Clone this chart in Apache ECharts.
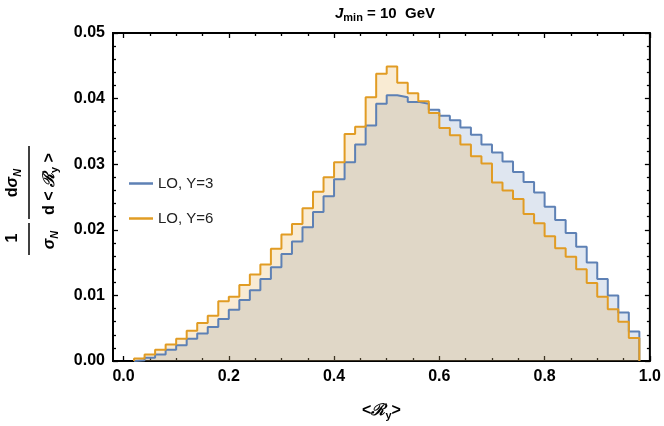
<!DOCTYPE html>
<html>
<head>
<meta charset="utf-8">
<script src="https://cdn.jsdelivr.net/npm/echarts@6/dist/echarts.min.js"></script>
<style>
  html, body { margin: 0; padding: 0; background: #fff; }
  #chart { width: 664px; height: 426px; }
</style>
</head>
<body>
<div id="chart"></div>
<script>
// bin edges of the histogram (width 0.02)
const binEdges = [0.02, 0.04, 0.06, 0.08, 0.10, 0.12, 0.14, 0.16, 0.18, 0.20,
  0.22, 0.24, 0.26, 0.28, 0.30, 0.32, 0.34, 0.36, 0.38, 0.40,
  0.42, 0.44, 0.46, 0.48, 0.50, 0.52, 0.54, 0.56, 0.58, 0.60,
  0.62, 0.64, 0.66, 0.68, 0.70, 0.72, 0.74, 0.76, 0.78, 0.80,
  0.82, 0.84, 0.86, 0.88, 0.90, 0.92, 0.94, 0.96, 0.98];

// LO, Y=3
const loY3 = [0.0001, 0.0005, 0.0010, 0.0017, 0.0024, 0.0034, 0.0042, 0.0052, 0.0064, 0.0078,
  0.0093, 0.0108, 0.0125, 0.0143, 0.0163, 0.0182, 0.0204, 0.0227, 0.0251, 0.0277,
  0.0303, 0.0330, 0.0359, 0.0392, 0.0405, 0.0402, 0.0395, 0.0392, 0.0383, 0.0374,
  0.0367, 0.0356, 0.0345, 0.0330, 0.0318, 0.0304, 0.0288, 0.0273, 0.0257, 0.0235,
  0.0215, 0.0195, 0.0174, 0.0150, 0.0125, 0.0100, 0.0074, 0.0045];

// LO, Y=6
const loY6 = [0.0004, 0.0010, 0.0017, 0.0025, 0.0034, 0.0046, 0.0058, 0.0069, 0.0091, 0.0098,
  0.0116, 0.0132, 0.0147, 0.0171, 0.0193, 0.0209, 0.0233, 0.0258, 0.0280, 0.0303,
  0.0346, 0.0357, 0.0402, 0.0438, 0.0449, 0.0424, 0.0408, 0.0396, 0.0378, 0.0355,
  0.0344, 0.0330, 0.0312, 0.0301, 0.0272, 0.0260, 0.0247, 0.0224, 0.0210, 0.0190,
  0.0172, 0.0159, 0.0140, 0.0119, 0.0098, 0.0079, 0.0060, 0.0035];

const xMajorTicks = [0, 0.2, 0.4, 0.6, 0.8, 1.0];
const xMinorTicks = [0.05, 0.1, 0.15, 0.25, 0.3, 0.35, 0.45, 0.5, 0.55,
  0.65, 0.7, 0.75, 0.85, 0.9, 0.95];

const BLUE = '#5E81B5';
const ORANGE = '#E19C24';
const FONT = 'Liberation Sans';

function stepPoints(vals) {
  const pts = [[binEdges[0], 0]];
  vals.forEach((v, i) => pts.push([binEdges[i], v]));
  const last = binEdges[vals.length];
  pts.push([last, vals[vals.length - 1]]);
  pts.push([last, 0]);
  return pts;
}

const myChart = echarts.init(document.getElementById('chart'));

const sub = { fontSize: 11, fontWeight: 'bold', fontFamily: FONT, padding: [9, 0, 0, 0] };
const big = { fontSize: 16, fontWeight: 'bold', fontFamily: FONT };
const ital = { fontSize: 16, fontWeight: 'bold', fontStyle: 'italic', fontFamily: FONT };

function xAxisBase(position, ticks, len) {
  return {
    type: 'value',
    position: position,
    min: -0.02,
    max: 1.0,
    axisLine: { show: false, onZero: false },
    splitLine: { show: false },
    axisTick: {
      show: true, inside: true, length: len, customValues: ticks,
      lineStyle: { color: '#000', width: 1.3 },
    },
    axisLabel: { show: false },
  };
}

function yAxisBase(position) {
  return {
    type: 'value', position: position, min: 0, max: 0.05, interval: 0.01,
    axisLine: { show: false, onZero: false },
    splitLine: { show: false },
    axisTick: { show: true, inside: true, length: 5, lineStyle: { color: '#000', width: 1.3 } },
    minorTick: { show: true, splitNumber: 5, length: 3, lineStyle: { color: '#000', width: 1.3 } },
    axisLabel: { show: false },
  };
}

const option = {
  animation: false,
  title: {
    text: '{i|J}{s|min}{b| = 10  GeV}',
    left: 380,
    top: -1,
    textAlign: 'center',
    textStyle: {
      rich: {
        i: { fontSize: 15, fontWeight: 'bold', fontStyle: 'italic', fontFamily: FONT, color: '#000' },
        s: { fontSize: 11, fontWeight: 'bold', fontFamily: FONT, color: '#000', padding: [8, 0, 0, 0] },
        b: { fontSize: 15, fontWeight: 'bold', fontFamily: FONT, color: '#000' },
      },
    },
  },
  legend: {
    orient: 'vertical',
    left: 124,
    top: 171,
    icon: 'rect',
    itemWidth: 24,
    itemHeight: 2.5,
    itemGap: 20,
    textStyle: { fontSize: 15, fontFamily: FONT, color: '#222', padding: [0, 0, 0, 0] },
    data: ['LO, Y=3', 'LO, Y=6'],
  },
  grid: {
    left: 113, right: 14, top: 33, bottom: 60,
    show: true, borderColor: '#000', borderWidth: 2, backgroundColor: 'transparent',
  },
  xAxis: [
    Object.assign(xAxisBase('bottom', xMajorTicks, 5), {
      axisLabel: {
        show: true, customValues: xMajorTicks, margin: 8,
        fontSize: 16, fontWeight: 'bold', fontFamily: FONT, color: '#000',
        formatter: (v) => v.toFixed(1),
      },
      name: '<{i|ℛ}{s|y}>',
      nameLocation: 'middle',
      nameGap: 40,
      nameTextStyle: {
        rich: {
          i: { fontSize: 16, fontWeight: 'bold', fontStyle: 'italic', fontFamily: FONT, color: '#000' },
          s: { fontSize: 11, fontWeight: 'bold', fontFamily: FONT, color: '#000', padding: [9, 0, 0, 0] },
        },
        fontSize: 16, fontWeight: 'bold', fontFamily: FONT, color: '#000',
      },
    }),
    xAxisBase('bottom', xMinorTicks, 3),
    xAxisBase('top', xMajorTicks, 5),
    xAxisBase('top', xMinorTicks, 3),
  ],
  yAxis: [
    Object.assign(yAxisBase('left'), {
      axisLabel: {
        show: true, fontSize: 16, fontWeight: 'bold', fontFamily: FONT, color: '#000', margin: 8,
        formatter: (v) => v.toFixed(2),
      },
    }),
    yAxisBase('right'),
  ],
  series: [
    {
      name: 'LO, Y=3',
      type: 'line',
      step: 'end',
      symbol: 'none',
      data: stepPoints(loY3),
      color: BLUE,
      lineStyle: { color: BLUE, width: 2 },
      areaStyle: { color: BLUE, opacity: 0.2 },
    },
    {
      name: 'LO, Y=6',
      type: 'line',
      step: 'end',
      symbol: 'none',
      data: stepPoints(loY6),
      color: ORANGE,
      lineStyle: { color: ORANGE, width: 2 },
      areaStyle: { color: ORANGE, opacity: 0.2 },
    },
  ],
  graphic: [
    // y-axis label: 1/σN dσN / d<Ry>, rotated
    {
      type: 'text', x: 13, y: 238, rotation: Math.PI / 2,
      style: { text: '1', font: 'bold 16px "Liberation Sans"', fill: '#000', align: 'center', verticalAlign: 'middle' },
    },
    {
      type: 'line', shape: { x1: 29, y1: 223, x2: 29, y2: 255 },
      style: { stroke: '#000', lineWidth: 1.5 },
    },
    {
      type: 'text', x: 50, y: 240, rotation: Math.PI / 2,
      style: {
        text: '{i|σ}{s|N}', align: 'center', verticalAlign: 'middle',
        rich: { i: Object.assign({ fill: '#000' }, ital), s: Object.assign({ fill: '#000', fontStyle: 'italic' }, sub) },
      },
    },
    {
      type: 'text', x: 13, y: 183, rotation: Math.PI / 2,
      style: {
        text: '{b|d}{i|σ}{s|N}', align: 'center', verticalAlign: 'middle',
        rich: {
          b: Object.assign({ fill: '#000' }, big),
          i: Object.assign({ fill: '#000' }, ital),
          s: Object.assign({ fill: '#000', fontStyle: 'italic' }, sub),
        },
      },
    },
    {
      type: 'line', shape: { x1: 29, y1: 146, x2: 29, y2: 219 },
      style: { stroke: '#000', lineWidth: 1.5 },
    },
    {
      type: 'text', x: 50, y: 184, rotation: Math.PI / 2,
      style: {
        text: '{b|d < }{i|ℛ}{s|y}{b| >}', align: 'center', verticalAlign: 'middle',
        rich: {
          b: Object.assign({ fill: '#000' }, big),
          i: Object.assign({ fill: '#000' }, ital),
          s: Object.assign({ fill: '#000' }, sub),
        },
      },
    },
  ],
};

myChart.setOption(option);
</script>
</body>
</html>
